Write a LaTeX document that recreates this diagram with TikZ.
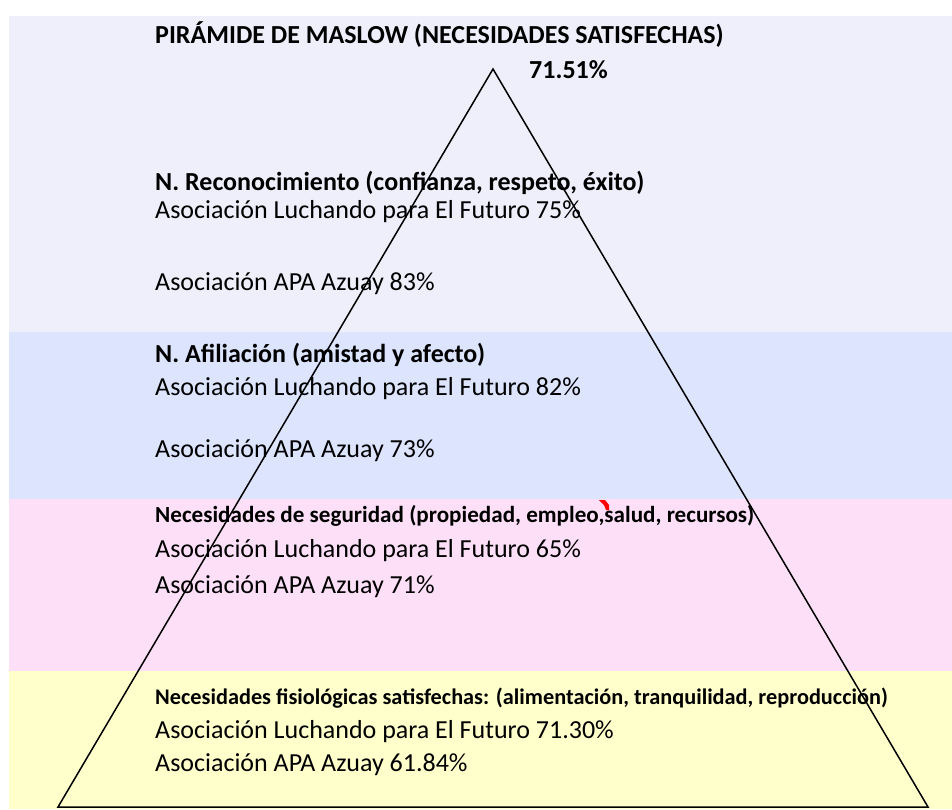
\documentclass[tikz,border=0pt]{standalone}
\usepackage{fontspec}
\setmainfont{Carlito}
\definecolor{bandA}{RGB}{239,239,252}
\definecolor{bandB}{RGB}{220,228,254}
\definecolor{bandC}{RGB}{253,224,248}
\definecolor{bandD}{RGB}{255,255,204}
\tikzset{
  lbl/.style={anchor=base west, inner sep=0pt, font=\fontsize{26}{30}\selectfont},
  hdr/.style={lbl, font=\fontsize{26}{30}\selectfont\bfseries},
  hdrsmall/.style={lbl, font=\fontsize{23.1}{27}\selectfont\bfseries},
  hdrtiny/.style={lbl, font=\fontsize{22.3}{26}\selectfont\bfseries},
  edge/.style={line width=1.5pt, line join=miter},
}
\begin{document}
\begin{tikzpicture}[x=1pt,y=-1pt]
\useasboundingbox (0,0) rectangle (952,809);
% bands
\fill[bandA] (9,16) rectangle (952,332);
\fill[bandB] (9,332) rectangle (952,499);
\fill[bandC] (9,499) rectangle (952,671);
\fill[bandD] (9,671) rectangle (952,809);
% pyramid
\coordinate (apex) at (493,69);
\coordinate (bl) at (58,807);
\coordinate (br) at (928,807);
\draw[edge] (apex) -- (br) -- (bl) -- cycle;
% red mark
\fill[red] (599,500) -- (605,500) -- (609,505) -- (609,510) -- (606,510) -- (604,505) -- cycle;
% texts
\node[hdr] (title) at (155,43) {PIRÁMIDE DE MASLOW (NECESIDADES SATISFECHAS)};
\node[hdr] (total) at (529,78) {71.51\%};
\node[hdr] (h1) at (155,190) {N. Reconocimiento (confianza, respeto, éxito)};
\node[lbl] (a1) at (155,218) {Asociación Luchando para El Futuro 75\%};
\node[lbl] (b1) at (155,290) {Asociación APA Azuay 83\%};
\node[hdr] (h2) at (155,362) {N. Afiliación (amistad y afecto)};
\node[lbl] (a2) at (155,395) {Asociación Luchando para El Futuro 82\%};
\node[lbl] (b2) at (155,457) {Asociación APA Azuay 73\%};
\node[hdrsmall] (h3) at (155,522) {Necesidades de seguridad (propiedad, empleo,salud, recursos)};
\node[lbl] (a3) at (155,557) {Asociación Luchando para El Futuro 65\%};
\node[lbl] (b3) at (155,593) {Asociación APA Azuay 71\%};
\node[hdrtiny] (h4) at (155,704) {Necesidades fisiológicas satisfechas: (alimentación, tranquilidad, reproducción)};
\node[lbl] (a4) at (155,738) {Asociación Luchando para El Futuro 71.30\%};
\node[lbl] (b4) at (155,771) {Asociación APA Azuay 61.84\%};
\end{tikzpicture}
\end{document}
